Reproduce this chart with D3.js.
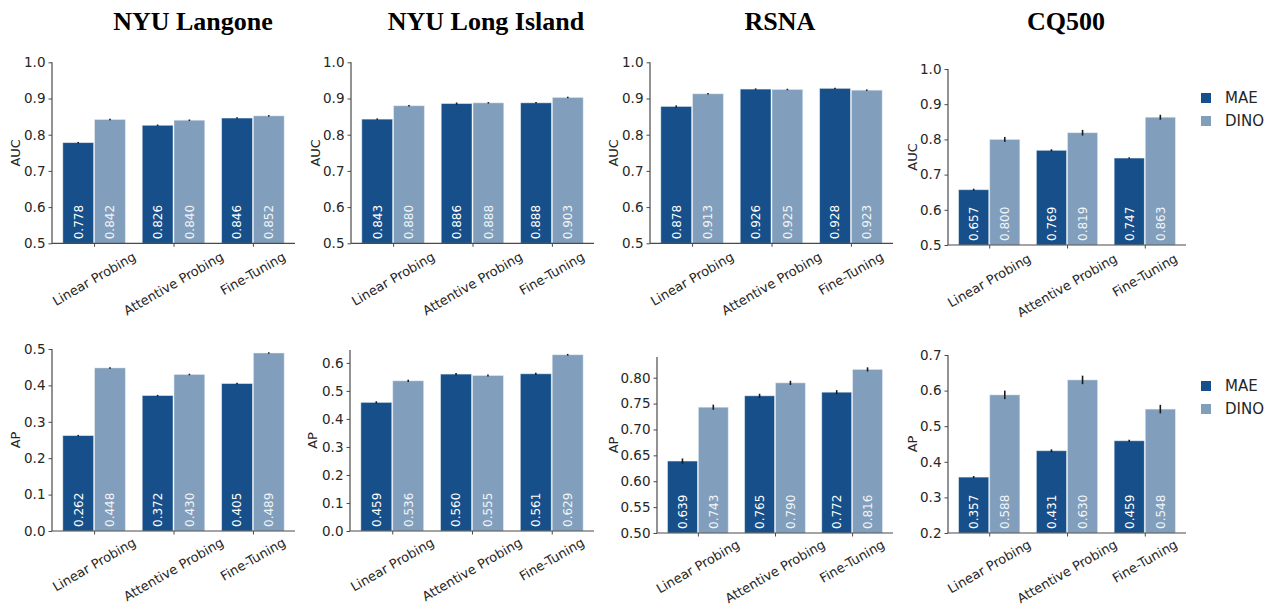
<!DOCTYPE html>
<html><head><meta charset="utf-8">
<script src="https://cdn.jsdelivr.net/npm/d3@7"></script>
<style>body{margin:0;background:#fff}svg{display:block}</style>
</head><body>
<svg id="c" width="1273" height="605"></svg>
<script>
const datasets = ["NYU Langone","NYU Long Island","RSNA","CQ500"];
const categories = ["Linear Probing","Attentive Probing","Fine-Tuning"];
const series = ["MAE","DINO"];
const metrics = ["AUC","AP"];
const aucMAE  = [[0.778,0.826,0.846],[0.843,0.886,0.888],[0.878,0.926,0.928],[0.657,0.769,0.747]];
const aucDINO = [[0.842,0.840,0.852],[0.880,0.888,0.903],[0.913,0.925,0.923],[0.800,0.819,0.863]];
const apMAE   = [[0.262,0.372,0.405],[0.459,0.560,0.561],[0.639,0.765,0.772],[0.357,0.431,0.459]];
const apDINO  = [[0.448,0.430,0.489],[0.536,0.555,0.629],[0.743,0.790,0.816],[0.588,0.630,0.548]];
const aucErrMAE  = [[0.002,0.002,0.002],[0.002,0.003,0.002],[0.003,0.002,0.002],[0.003,0.003,0.002]];
const aucErrDINO = [[0.002,0.002,0.002],[0.002,0.002,0.002],[0.002,0.002,0.002],[0.007,0.008,0.007]];
const apErrMAE   = [[0.002,0.002,0.002],[0.004,0.004,0.004],[0.005,0.004,0.004],[0.003,0.004,0.003]];
const apErrDINO  = [[0.002,0.002,0.002],[0.004,0.004,0.003],[0.005,0.004,0.004],[0.012,0.012,0.012]];
const aucTicks = [0.5,0.6,0.7,0.8,0.9,1.0];
const apTicks = [[0,0.1,0.2,0.3,0.4,0.5],[0,0.1,0.2,0.3,0.4,0.5,0.6],[0.50,0.55,0.60,0.65,0.70,0.75,0.80],[0.2,0.3,0.4,0.5,0.6,0.7]];
const aucLim = [[0.5,1.0],[0.5,1.0],[0.5,1.0],[0.5,1.0]];
const apLim = [[0,0.5],[0,0.646],[0.5,0.84],[0.2,0.7]];

const colors = {MAE:"#164f89", DINO:"#819fbc"};
const textCol = "#262626", spineCol = "#4a4a4a";

// layout (pixel boxes per panel)
const titleX = [193, 486, 780, 1066];
const topBoxes = [[52,295,62.3,243.3],[351,594,62.3,243.3],[650,893,62.3,243.3],[948,1186,69,245]];
const botBoxes = [[52,295,349,531],[350,594,350,531],[657,893,357,533],[948,1186,355,533]];
const topLabX = [15,315,613,912];
const botLabX = [15,312,613,912];

const svg = d3.select("#c");

datasets.forEach((d,i)=>{
  svg.append("text").attr("x",titleX[i]).attr("y",30).attr("text-anchor","middle")
    .attr("font-family","'Liberation Serif','Times New Roman',serif").attr("font-weight","bold")
    .attr("font-size",26).attr("fill","#000").text(d);
});

function panel(box, lim, ticks, fmt, mae, dino, errM, errD, metric, labX, legend, catOff){
  const [x0,x1,y0,y1] = box;
  const g = svg.append("g");
  const x = d3.scaleLinear().domain([-0.53,2.53]).range([x0,x1]);
  const y = d3.scaleLinear().domain(lim).range([y1,y0]);
  const bw = x(0.4)-x(0);
  const rows = [];
  categories.forEach((c,ci)=>{
    rows.push({s:"MAE",ci,v:mae[ci],e:errM[ci],xl:x(ci-0.4)});
    rows.push({s:"DINO",ci,v:dino[ci],e:errD[ci],xl:x(ci)});
  });
  g.selectAll("rect.bar").data(rows).join("rect")
    .attr("x",r=>r.xl+0.5).attr("width",bw-1)
    .attr("y",r=>y(r.v)).attr("height",r=>y(lim[0])-y(r.v))
    .attr("fill",r=>colors[r.s]).attr("stroke","#e8eef5").attr("stroke-opacity",0.6).attr("stroke-width",0.8);
  g.selectAll("line.err").data(rows).join("line")
    .attr("x1",r=>r.xl+bw/2).attr("x2",r=>r.xl+bw/2)
    .attr("y1",r=>y(r.v-r.e)).attr("y2",r=>y(r.v+r.e))
    .attr("stroke","#1a1a1a").attr("stroke-width",1.6);
  g.selectAll("text.val").data(rows).join("text")
    .attr("transform",r=>`translate(${r.xl+bw/2+4.3},${y(lim[0])-4}) rotate(-90)`)
    .attr("font-family","'DejaVu Sans',sans-serif").attr("font-size",12)
    .attr("fill",r=>r.s==="MAE"?"#ffffff":"#f2f5f8").text(r=>r.v.toFixed(3));
  // axes
  const ya = d3.axisLeft(y).tickValues(ticks).tickFormat(d3.format(fmt)).tickSize(3.5).tickPadding(3);
  const yg = g.append("g").attr("transform",`translate(${x0},0)`).call(ya);
  const xa = d3.axisBottom(x).tickValues([0,1,2]).tickFormat("").tickSize(3.5);
  const xg = g.append("g").attr("transform",`translate(0,${y1})`).call(xa);
  [yg,xg].forEach(a=>{
    a.selectAll(".tick line").attr("stroke",spineCol).attr("stroke-width",1);
    a.selectAll(".tick text").attr("font-family","'DejaVu Sans',sans-serif").attr("font-size",13.5).attr("fill",textCol);
  });
  yg.select(".domain").remove(); xg.select(".domain").remove();
  g.append("line").attr("x1",x0).attr("x2",x0).attr("y1",y0).attr("y2",y1).attr("stroke",spineCol).attr("stroke-width",1.2);
  g.append("line").attr("x1",x0).attr("x2",x1).attr("y1",y1).attr("y2",y1).attr("stroke",spineCol).attr("stroke-width",1.2);
  // rotated category labels, bbox centered on tick
  const th = 30*Math.PI/180;
  categories.forEach((c,ci)=>{
    const t = g.append("text").attr("font-family","'DejaVu Sans',sans-serif").attr("font-size",13)
      .attr("fill",textCol).attr("text-anchor","middle").attr("dy","0.35em").text(c);
    const w = t.node().getComputedTextLength(), h = 13;
    const bh = w*Math.sin(th)+h*Math.cos(th);
    t.attr("transform",`translate(${x(ci)},${y1+catOff+bh/2}) rotate(-30)`);
  });
  // y label
  g.append("text").attr("transform",`translate(${labX},${(y0+y1)/2}) rotate(-90)`).attr("dy","0.35em")
    .attr("text-anchor","middle").attr("font-family","'DejaVu Sans',sans-serif").attr("font-size",13)
    .attr("fill",textCol).text(metric);
  if(legend){
    series.forEach((s,si)=>{
      const cy = legend + si*23;
      svg.append("rect").attr("x",1201).attr("y",cy-5).attr("width",10).attr("height",10).attr("fill",colors[s]);
      svg.append("text").attr("x",1225).attr("y",cy).attr("dy","0.35em").attr("font-family","'DejaVu Sans',sans-serif")
        .attr("font-size",15).attr("fill",textCol).text(s);
    });
  }
}

datasets.forEach((d,i)=>{
  panel(topBoxes[i], aucLim[i], aucTicks, ".1f", aucMAE[i], aucDINO[i], aucErrMAE[i], aucErrDINO[i], metrics[0], topLabX[i], i===3?98:null, 6.5);
  panel(botBoxes[i], apLim[i], apTicks[i], i===2?".2f":".1f", apMAE[i], apDINO[i], apErrMAE[i], apErrDINO[i], metrics[1], botLabX[i], i===3?386:null, 4.5);
});
</script>
</body></html>
